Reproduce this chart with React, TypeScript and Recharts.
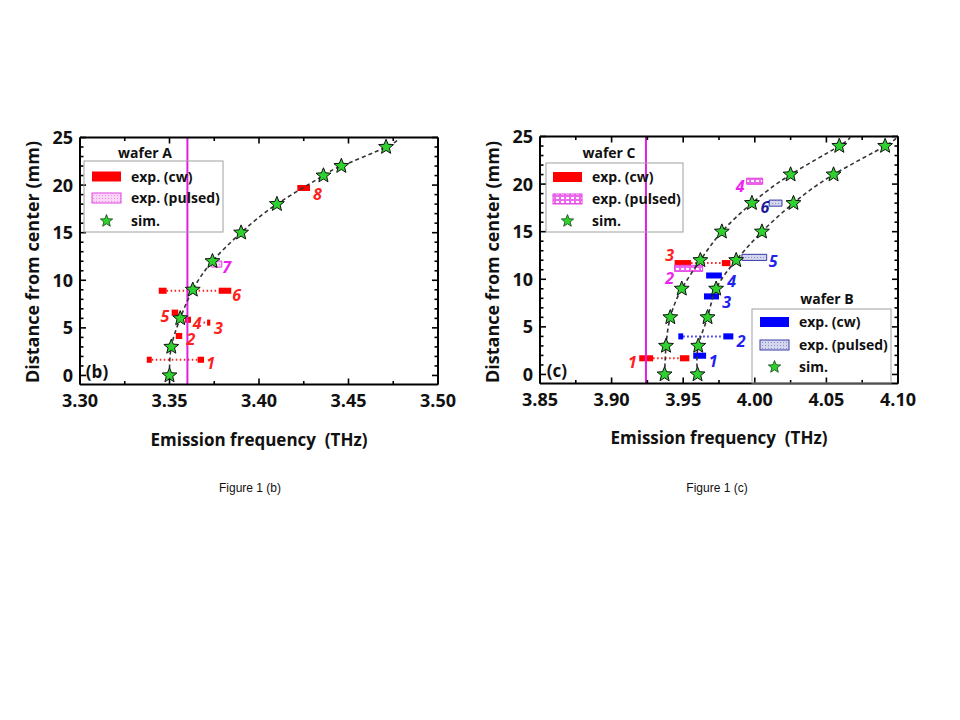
import React from 'react';
import { ComposedChart, XAxis, YAxis, Scatter, ReferenceArea, ReferenceLine } from 'recharts';

// ---------- Figure 1 (b): wafer A ----------
const simA = [
  { f: 3.350, d: 0 }, { f: 3.351, d: 3 }, { f: 3.356, d: 6 }, { f: 3.363, d: 9 },
  { f: 3.374, d: 12 }, { f: 3.390, d: 15 }, { f: 3.410, d: 18 }, { f: 3.436, d: 21 },
  { f: 3.446, d: 22 }, { f: 3.471, d: 24 },
];
// where the dashed guide leaves the frame
const curveEndA = [{ f: 3.478, d: 25 }];

const cwA = [
  { f1: 3.3373, f2: 3.3401, d: 1.65 },
  { f1: 3.3657, f2: 3.3693, d: 1.65 },
  { f1: 3.3535, f2: 3.3571, d: 4.15 },
  { f1: 3.3710, f2: 3.3728, d: 5.55 },
  { f1: 3.3587, f2: 3.3620, d: 5.85 },
  { f1: 3.3512, f2: 3.3549, d: 6.6 },
  { f1: 3.3440, f2: 3.3484, d: 8.9 },
  { f1: 3.3775, f2: 3.3845, d: 8.9 },
  { f1: 3.4214, f2: 3.4285, d: 19.7 },
];
const pulsedA = [{ f1: 3.3736, f2: 3.3792, d: 11.7 }];
const linksA = [
  { f1: 3.3401, f2: 3.3657, d: 1.65 },
  { f1: 3.3690, f2: 3.3710, d: 5.55 },
  { f1: 3.3484, f2: 3.3775, d: 8.9 },
];
const labelsA = [
  { t: '1', f: 3.373, d: 1.3, c: '#ff2020' },
  { t: '2', f: 3.362, d: 3.8, c: '#ff2020' },
  { t: '3', f: 3.3773, d: 5.0, c: '#ff2020' },
  { t: '4', f: 3.3655, d: 5.5, c: '#ff2020' },
  { t: '5', f: 3.3475, d: 6.2, c: '#ff2020' },
  { t: '6', f: 3.3875, d: 8.45, c: '#ff2020' },
  { t: '7', f: 3.382, d: 11.4, c: '#ee22ee' },
  { t: '8', f: 3.4326, d: 19.1, c: '#ff2020' },
];
const xTicksB = [3.3, 3.325, 3.35, 3.375, 3.4, 3.425, 3.45, 3.475, 3.5];

// ---------- Figure 1 (c): wafers B and C ----------
const simC = [
  { f: 3.937, d: 0 }, { f: 3.938, d: 3 }, { f: 3.941, d: 6 }, { f: 3.949, d: 9 },
  { f: 3.962, d: 12 }, { f: 3.977, d: 15 }, { f: 3.998, d: 18 }, { f: 4.025, d: 21 },
  { f: 4.059, d: 24 },
];
const curveEndC = [{ f: 4.0665, d: 25 }];
const simB = [
  { f: 3.960, d: 0 }, { f: 3.9605, d: 3 }, { f: 3.967, d: 6 }, { f: 3.973, d: 9 },
  { f: 3.987, d: 12 }, { f: 4.005, d: 15 }, { f: 4.027, d: 18 }, { f: 4.055, d: 21 },
  { f: 4.091, d: 24 },
];
const curveEndB = [{ f: 4.099, d: 25 }];

const cwC = [
  { f1: 3.9193, f2: 3.9290, d: 1.7 },
  { f1: 3.9477, f2: 3.9543, d: 1.7 },
  { f1: 3.9440, f2: 3.9555, d: 11.7 },
  { f1: 3.9770, f2: 3.9830, d: 11.7 },
];
const pulsedC = [
  { f1: 3.9440, f2: 3.9636, d: 11.15 },
  { f1: 3.9943, f2: 4.0055, d: 20.3 },
];
const linksC = [
  { f1: 3.9290, f2: 3.9477, d: 1.7 },
  { f1: 3.9555, f2: 3.9770, d: 11.7 },
];
const cwB = [
  { f1: 3.9570, f2: 3.9660, d: 1.97 },
  { f1: 3.9466, f2: 3.9500, d: 4.0 },
  { f1: 3.9780, f2: 3.9850, d: 4.0 },
  { f1: 3.9645, f2: 3.9750, d: 8.2 },
  { f1: 3.9660, f2: 3.9770, d: 10.4 },
];
const pulsedB = [
  { f1: 3.9910, f2: 4.0083, d: 12.3 },
  { f1: 4.0100, f2: 4.0190, d: 18.0 },
];
const linksB = [{ f1: 3.9500, f2: 3.9780, d: 4.0 }];
const labelsC = [
  { t: '1', f: 3.9145, d: 1.3, c: '#ff2020' },
  { t: '3', f: 3.9405, d: 12.5, c: '#ff2020' },
  { t: '2', f: 3.9405, d: 10.1, c: '#ee22ee' },
  { t: '4', f: 3.9897, d: 19.8, c: '#ee22ee' },
  { t: '1', f: 3.971, d: 1.45, c: '#2222ee' },
  { t: '2', f: 3.9904, d: 3.55, c: '#2222ee' },
  { t: '3', f: 3.9804, d: 7.6, c: '#2222ee' },
  { t: '4', f: 3.9839, d: 9.85, c: '#2222ee' },
  { t: '5', f: 4.0129, d: 11.9, c: '#2222ee' },
  { t: '6', f: 4.0071, d: 17.55, c: '#1a1a99' },
];
const xTicksC = [3.85, 3.875, 3.9, 3.925, 3.95, 3.975, 4.0, 4.025, 4.05, 4.075, 4.1];

const yTicks = [0, 1, 2, 3, 4, 5, 6, 7, 8, 9, 10, 11, 12, 13, 14, 15, 16, 17, 18, 19, 20, 21, 22, 23, 24, 25];

const FONT = '"Open Sans", "DejaVu Sans", sans-serif';
const BAR_H = 0.32;

function starPoints(cx: number, cy: number, R: number, r: number) {
  const pts: string[] = [];
  for (let i = 0; i < 10; i++) {
    const a = -Math.PI / 2 + (i * Math.PI) / 5;
    const rad = i % 2 === 0 ? R : r;
    pts.push(`${cx + rad * Math.cos(a)},${cy + rad * Math.sin(a)}`);
  }
  return pts.join(' ');
}

const Star = (p: any) => (
  <polygon points={starPoints(p.cx, p.cy, 7.8, 3.4)} fill="#2fd12f" stroke="#111" strokeWidth={1} />
);
const NoShape = () => <g />;
const NumLabel = (p: any) => (
  <text x={p.cx} y={p.cy} textAnchor="middle" dominantBaseline="central" fill={p.payload.c}
    fontFamily={FONT} fontSize={16} fontWeight={700} fontStyle="italic">{p.payload.t}</text>
);

const isMajorX = (v: number) => Math.abs(v * 20 - Math.round(v * 20)) < 1e-6;
const isMajorY = (v: number) => v % 5 === 0;

function tickFn(side: 'bottom' | 'top' | 'left' | 'right', showText: boolean) {
  return (p: any) => {
    const v = p.payload.value;
    const big = side === 'bottom' || side === 'top' ? isMajorX(v) : isMajorY(v);
    const len = big ? 6 : 3.5;
    const { x, y } = p;
    let ln;
    if (side === 'bottom') ln = { x1: x, y1: y, x2: x, y2: y - len };
    else if (side === 'top') ln = { x1: x, y1: y, x2: x, y2: y + len };
    else if (side === 'left') ln = { x1: x, y1: y, x2: x + len, y2: y };
    else ln = { x1: x, y1: y, x2: x - len, y2: y };
    return (
      <g>
        <line {...ln} stroke="#000" strokeWidth={1.6} />
        {showText && big && side === 'bottom' && (
          <text x={x} y={y + 22} textAnchor="middle" fontFamily={FONT} fontSize={18} fontWeight={700} fill="#111">
            {v.toFixed(2)}
          </text>
        )}
        {showText && big && side === 'left' && (
          <text x={x - 7} y={y + 6.5} textAnchor="end" fontFamily={FONT} fontSize={18} fontWeight={700} fill="#111">
            {v}
          </text>
        )}
      </g>
    );
  };
}

const axisLine = { stroke: '#000', strokeWidth: 2 };

type Bar = { f1: number; f2: number; d: number };

function Panel(props: {
  left: number; top: number; domain: [number, number]; xTicks: number[]; vline: number;
  cw: Bar[]; cwColor: string; pulsed: Bar[]; pulsedFill: string; pulsedStroke: string;
  cw2?: Bar[]; cw2Color?: string; pulsed2?: Bar[]; pulsed2Fill?: string; pulsed2Stroke?: string;
  links: Bar[]; linkColor: string; links2?: Bar[]; link2Color?: string;
  curves: { f: number; d: number }[][]; stars: { f: number; d: number }[][];
  labels: any[];
}) {
  const areas = (bars: Bar[], fill: string, stroke: string, key: string) =>
    bars.map((b, i) => (
      <ReferenceArea key={key + i} x1={b.f1} x2={b.f2} y1={b.d - BAR_H} y2={b.d + BAR_H}
        fill={fill} fillOpacity={1} stroke={stroke} strokeWidth={stroke === 'none' ? 0 : 1} ifOverflow="visible" />
    ));
  const segs = (ls: Bar[], color: string, key: string) =>
    ls.map((l, i) => (
      <ReferenceLine key={key + i} segment={[{ x: l.f1, y: l.d }, { x: l.f2, y: l.d }]}
        stroke={color} strokeWidth={2} strokeDasharray="1.5 2.5" ifOverflow="visible" />
    ));
  // axes are 1px thick so that Recharts draws them; margins compensate
  return (
    <div style={{ position: 'absolute', left: props.left, top: props.top }}>
      <ComposedChart width={470} height={470}
        margin={{ top: 136.5, right: 31, bottom: 84.5, left: 79 }}>
        <defs>
          <pattern id="pinkDots" width="3" height="3" patternUnits="userSpaceOnUse">
            <rect width="3" height="3" fill="#fbd6f8" />
            <rect width="1" height="1" fill="#e58fe0" />
          </pattern>
          <pattern id="pinkBlocks" width="5" height="4" patternUnits="userSpaceOnUse">
            <rect width="5" height="4" fill="#ee66ee" />
            <rect x="1" y="1" width="3" height="2" fill="#ffffff" />
          </pattern>
          <pattern id="blueDots" width="3" height="3" patternUnits="userSpaceOnUse">
            <rect width="3" height="3" fill="#d4d6ee" />
            <rect width="1" height="1" fill="#8a8ec8" />
          </pattern>
        </defs>
        <XAxis dataKey="f" type="number" domain={props.domain} allowDataOverflow ticks={props.xTicks}
          interval={0} height={1} tickSize={0} tickMargin={0} tickLine={false} axisLine={axisLine}
          tick={tickFn('bottom', true)} />
        <XAxis xAxisId="top" orientation="top" dataKey="f" type="number" domain={props.domain} allowDataOverflow
          ticks={props.xTicks} interval={0} height={1} tickSize={0} tickMargin={0} tickLine={false}
          axisLine={axisLine} tick={tickFn('top', false)} />
        <YAxis dataKey="d" type="number" domain={[-0.95, 25]} allowDataOverflow ticks={yTicks} interval={0}
          width={1} tickSize={0} tickMargin={0} tickLine={false} axisLine={axisLine} tick={tickFn('left', true)} />
        <YAxis yAxisId="right" orientation="right" dataKey="d" type="number" domain={[-0.95, 25]} allowDataOverflow
          ticks={yTicks} interval={0} width={1} tickSize={0} tickMargin={0} tickLine={false} axisLine={axisLine}
          tick={tickFn('right', false)} />
        {segs(props.links, props.linkColor, 'l')}
        {props.links2 && segs(props.links2, props.link2Color!, 'm')}
        {areas(props.cw, props.cwColor, 'none', 'c')}
        {areas(props.pulsed, props.pulsedFill, props.pulsedStroke, 'p')}
        {props.cw2 && areas(props.cw2, props.cw2Color!, 'none', 'q')}
        {props.pulsed2 && areas(props.pulsed2, props.pulsed2Fill!, props.pulsed2Stroke!, 'r')}
        <ReferenceLine x={props.vline} stroke="#e41de4" strokeWidth={2} />
        {props.curves.map((c, i) => (
          <Scatter key={'curve' + i} data={c} line={{ stroke: '#333', strokeWidth: 1.6, strokeDasharray: '4 3' }}
            lineJointType="natural" shape={NoShape} isAnimationActive={false} />
        ))}
        {props.stars.map((s, i) => (
          <Scatter key={'star' + i} data={s} shape={Star} isAnimationActive={false} />
        ))}
        <Scatter data={props.labels} shape={NumLabel} isAnimationActive={false} />
      </ComposedChart>
    </div>
  );
}

const LegendStar = ({ x, y }: { x: number; y: number }) => (
  <polygon points={starPoints(x, y, 6.5, 2.8)} fill="#2fd12f" stroke="#114411" strokeWidth={0.8} />
);

function LegendBox(p: {
  x: number; y: number; w: number; h: number; title: string; tx: number; ty: number;
  swX: number; txtX: number; rows: number[]; cw: string; pulsedFill: string; pulsedStroke: string;
}) {
  const t = { fontFamily: FONT, fontSize: 14, fontWeight: 700, fill: '#111' } as const;
  return (
    <g>
      <rect x={p.x} y={p.y} width={p.w} height={p.h} fill="none" stroke="#a0a0a0" strokeWidth={1} />
      <text x={p.tx} y={p.ty + 5.5} textAnchor="middle" {...t}>{p.title}</text>
      <rect x={p.swX} y={p.rows[0] - 5} width={29} height={10} fill={p.cw} />
      <text x={p.txtX} y={p.rows[0] + 5} {...t}>exp. (cw)</text>
      <rect x={p.swX} y={p.rows[1] - 5} width={29} height={10} fill={p.pulsedFill} stroke={p.pulsedStroke} strokeWidth={1} />
      <text x={p.txtX} y={p.rows[1] + 5} {...t}>exp. (pulsed)</text>
      <LegendStar x={p.swX + 14.5} y={p.rows[2]} />
      <text x={p.txtX} y={p.rows[2] + 5} {...t}>sim.</text>
    </g>
  );
}

export default function App() {
  const title = { fontFamily: FONT, fontSize: 17, fontWeight: 700, fill: '#111' } as const;
  return (
    <div style={{ position: 'absolute', left: 0, top: 0, width: 960, height: 720, background: '#fff', overflow: 'hidden' }}>
      <Panel left={0} top={0} domain={[3.3, 3.5]} xTicks={xTicksB} vline={3.36}
        cw={cwA} cwColor="#ff0000" pulsed={pulsedA} pulsedFill="url(#pinkDots)" pulsedStroke="#e040e0"
        links={linksA} linkColor="#ff2020" curves={[[...simA, ...curveEndA]]} stars={[simA]} labels={labelsA} />
      <Panel left={460} top={-1} domain={[3.85, 4.1]} xTicks={xTicksC} vline={3.924}
        cw={cwC} cwColor="#ff0000" pulsed={pulsedC} pulsedFill="url(#pinkBlocks)" pulsedStroke="#e040e0"
        cw2={cwB} cw2Color="#0000ff" pulsed2={pulsedB} pulsed2Fill="url(#blueDots)" pulsed2Stroke="#3a3aa8"
        links={linksC} linkColor="#ff2020" links2={linksB} link2Color="#2222ee"
        curves={[[...simC, ...curveEndC], [...simB, ...curveEndB]]} stars={[simC, simB]} labels={labelsC} />
      <svg width={960} height={720} style={{ position: 'absolute', left: 0, top: 0, pointerEvents: 'none' }}>
        <defs>
          <pattern id="lgPink" width="3" height="3" patternUnits="userSpaceOnUse">
            <rect width="3" height="3" fill="#fbd6f8" />
            <rect width="1" height="1" fill="#e58fe0" />
          </pattern>
          <pattern id="lgBlocks" width="5" height="4" patternUnits="userSpaceOnUse">
            <rect width="5" height="4" fill="#ee66ee" />
            <rect x="1" y="1" width="3" height="2" fill="#ffffff" />
          </pattern>
          <pattern id="lgBlue" width="3" height="3" patternUnits="userSpaceOnUse">
            <rect width="3" height="3" fill="#d4d6ee" />
            <rect width="1" height="1" fill="#8a8ec8" />
          </pattern>
        </defs>
        <LegendBox x={84} y={161} w={139} h={71} title="wafer A" tx={145} ty={152} swX={92} txtX={131}
          rows={[176.5, 198, 221]} cw="#ff0000" pulsedFill="url(#lgPink)" pulsedStroke="#e040e0" />
        <LegendBox x={546} y={163} w={137} h={69} title="wafer C" tx={609} ty={152} swX={553} txtX={592}
          rows={[177, 199, 221]} cw="#ff0000" pulsedFill="url(#lgBlocks)" pulsedStroke="#e040e0" />
        <LegendBox x={752} y={309} w={139} h={74} title="wafer B" tx={827} ty={298} swX={760} txtX={799}
          rows={[322, 345, 367]} cw="#0000ff" pulsedFill="url(#lgBlue)" pulsedStroke="#3a3aa8" />
        <text x={97} y={378} textAnchor="middle" {...title}>(b)</text>
        <text x={557} y={377} textAnchor="middle" {...title}>(c)</text>
        <text x={259} y={446} textAnchor="middle" xmlSpace="preserve" style={{ whiteSpace: 'pre' }} {...title}>Emission frequency  (THz)</text>
        <text x={719} y={444} textAnchor="middle" xmlSpace="preserve" style={{ whiteSpace: 'pre' }} {...title}>Emission frequency  (THz)</text>
        <text transform="translate(39 262) rotate(-90)" textAnchor="middle" {...title} fontSize={18}>Distance from center (mm)</text>
        <text transform="translate(499 262) rotate(-90)" textAnchor="middle" {...title} fontSize={18}>Distance from center (mm)</text>
        <text x={250} y={492} textAnchor="middle" fontFamily='"Liberation Sans", Arial, sans-serif' fontSize={12} fill="#111">Figure 1 (b)</text>
        <text x={717} y={492} textAnchor="middle" fontFamily='"Liberation Sans", Arial, sans-serif' fontSize={12} fill="#111">Figure 1 (c)</text>
      </svg>
    </div>
  );
}
